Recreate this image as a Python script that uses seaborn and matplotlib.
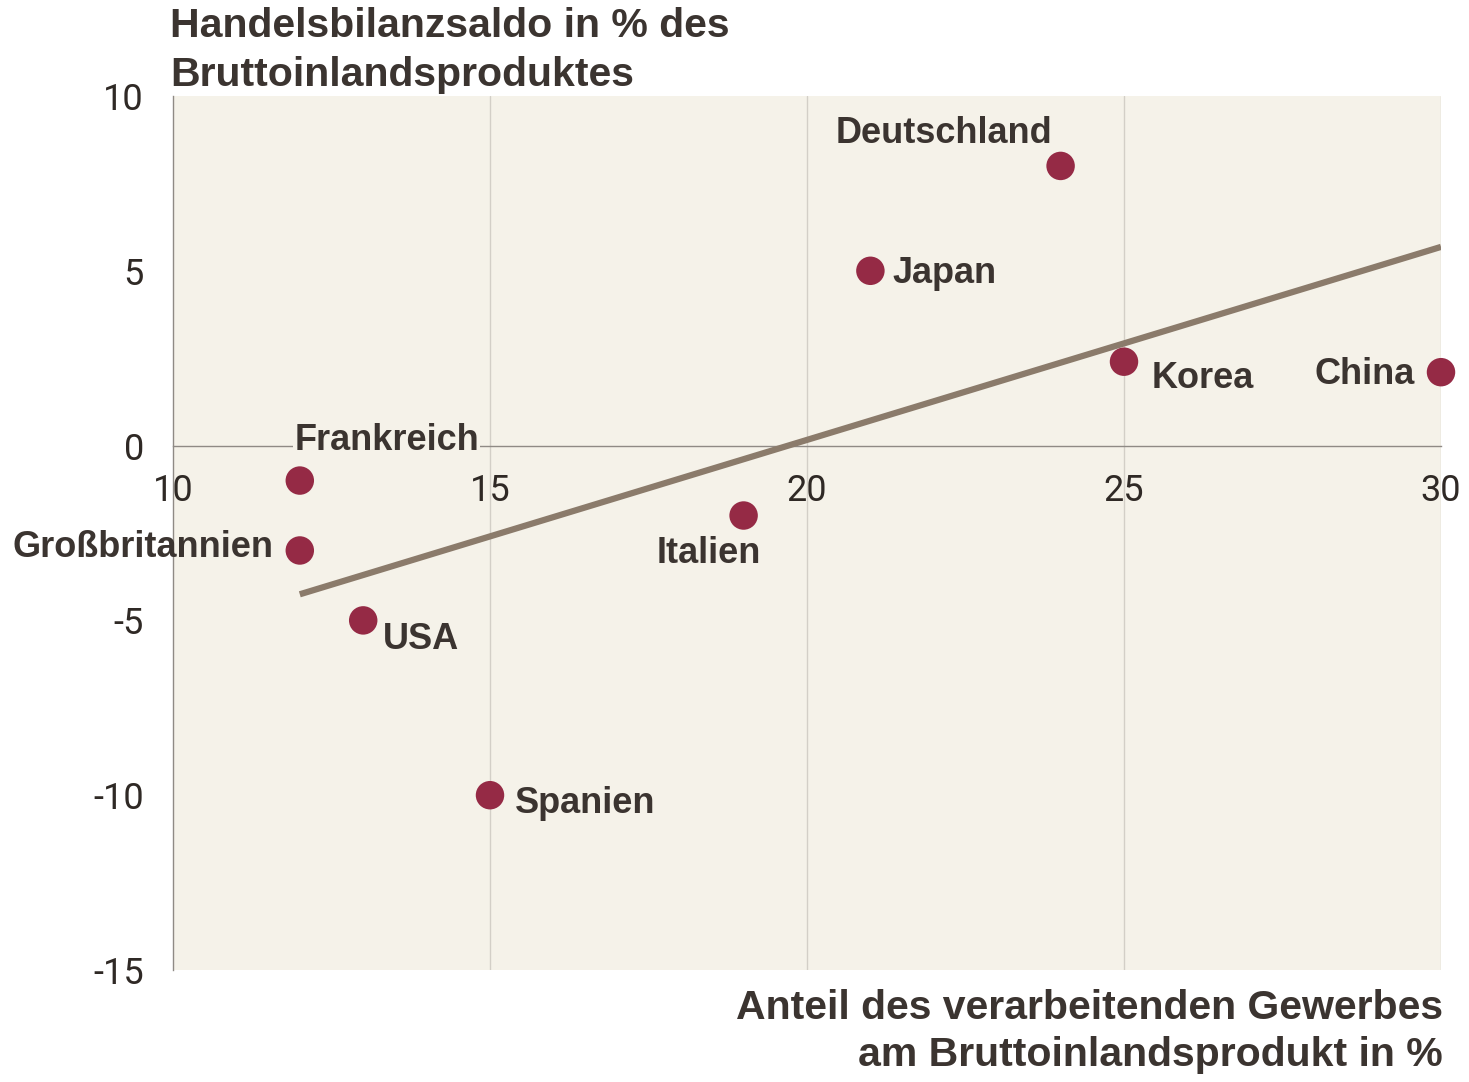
import numpy as np
import pandas as pd
import matplotlib
matplotlib.use("Agg")
import matplotlib.pyplot as plt
import seaborn as sns

# data
countries = ["Deutschland", "Japan", "Korea", "China", "Frankreich",
             "Großbritannien", "USA", "Spanien", "Italien"]
industry_share = [24, 21, 25, 30, 12, 12, 13, 15, 19]
trade_balance = [8, 5, 2.4, 2.1, -1, -3, -5, -10, -2]

df = pd.DataFrame({"land": countries, "x": industry_share, "y": trade_balance})

# label placement (offset in points, alignment)
label_pos = {
    "Deutschland": (-6, 23, "right"),
    "Japan": (16, -2, "left"),
    "Korea": (20, -12, "left"),
    "China": (-19, -2, "right"),
    "Frankreich": (-4, 29, "left"),
    "Großbritannien": (-19, 2, "right"),
    "USA": (14, -14, "left"),
    "Spanien": (18, -6, "left"),
    "Italien": (-25, -27, "center"),
}

sns.set_style("white")
plt.rcParams["font.family"] = ["Liberation Sans", "DejaVu Sans"]

text_col = "#3b3430"
bg = "#f5f2e9"
dot_col = "#952a45"
line_col = "#8b7b6b"

fig = plt.figure(figsize=(14.69, 10.82), dpi=100)
ax = fig.add_axes([173 / 1469, 1 - 970 / 1082, (1441 - 173) / 1469, (970 - 96) / 1082])
ax.set_facecolor(bg)

sns.regplot(data=df, x="x", y="y", scatter=False, ci=None, truncate=True,
            line_kws={"color": line_col, "lw": 4.5, "solid_capstyle": "butt", "zorder": 3}, ax=ax)
sns.scatterplot(data=df, x="x", y="y", s=420, color=dot_col, edgecolor="none",
                zorder=4, ax=ax, clip_on=False)

for name, xv, yv in zip(countries, industry_share, trade_balance):
    dx, dy, ha = label_pos[name]
    kw = {}
    if name == "Frankreich":
        kw["bbox"] = dict(facecolor=bg, edgecolor="none", pad=1)
    ax.annotate(name, (xv, yv), xytext=(dx, dy), textcoords="offset points",
                ha=ha, va="center", fontsize=26, fontweight="bold", color=text_col,
                zorder=5, **kw)

ax.set_xlim(10, 30)
ax.set_ylim(-15, 10)
ax.set_xticks([10, 15, 20, 25, 30])
ax.set_yticks([10, 5, 0, -5, -10, -15])
ax.set_yticklabels(["10", "5", "0", "-5", "-10", "-15"])
ax.set_xlabel("")
ax.set_ylabel("")

for x in [15, 20, 25, 30]:
    ax.axvline(x, color="#d3cfc7", lw=1, zorder=1)

for s in ["top", "right"]:
    ax.spines[s].set_visible(False)
ax.spines["left"].set_color("#8f8a85")
ax.spines["left"].set_linewidth(1)
ax.spines["bottom"].set_position(("data", 0))
ax.spines["bottom"].set_color("#8f8a85")
ax.spines["bottom"].set_linewidth(1)
ax.spines["bottom"].set_zorder(2)

ax.tick_params(axis="both", length=7, width=1, color="#8f8a85",
               labelsize=26, labelcolor="#2f2925")
ax.tick_params(axis="x", pad=13)
ax.tick_params(axis="y", pad=14)
for lab in ax.get_xticklabels() + ax.get_yticklabels():
    lab.set_fontfamily(["Roboto", "Liberation Sans"])
    lab.set_fontweight("normal")

fig.text(170 / 1469, 1 - 7 / 1082, "Handelsbilanzsaldo in % des\nBruttoinlandsproduktes",
         ha="left", va="top", fontsize=29.5, fontweight="bold", color=text_col, linespacing=1.35)
fig.text(1443 / 1469, 1 - 1074 / 1082,
         "Anteil des verarbeitenden Gewerbes\nam Bruttoinlandsprodukt in %",
         ha="right", va="bottom", fontsize=29.5, fontweight="bold", color=text_col,
         linespacing=1.3, multialignment="right")

fig.savefig("out.png", dpi=100, facecolor="white")
